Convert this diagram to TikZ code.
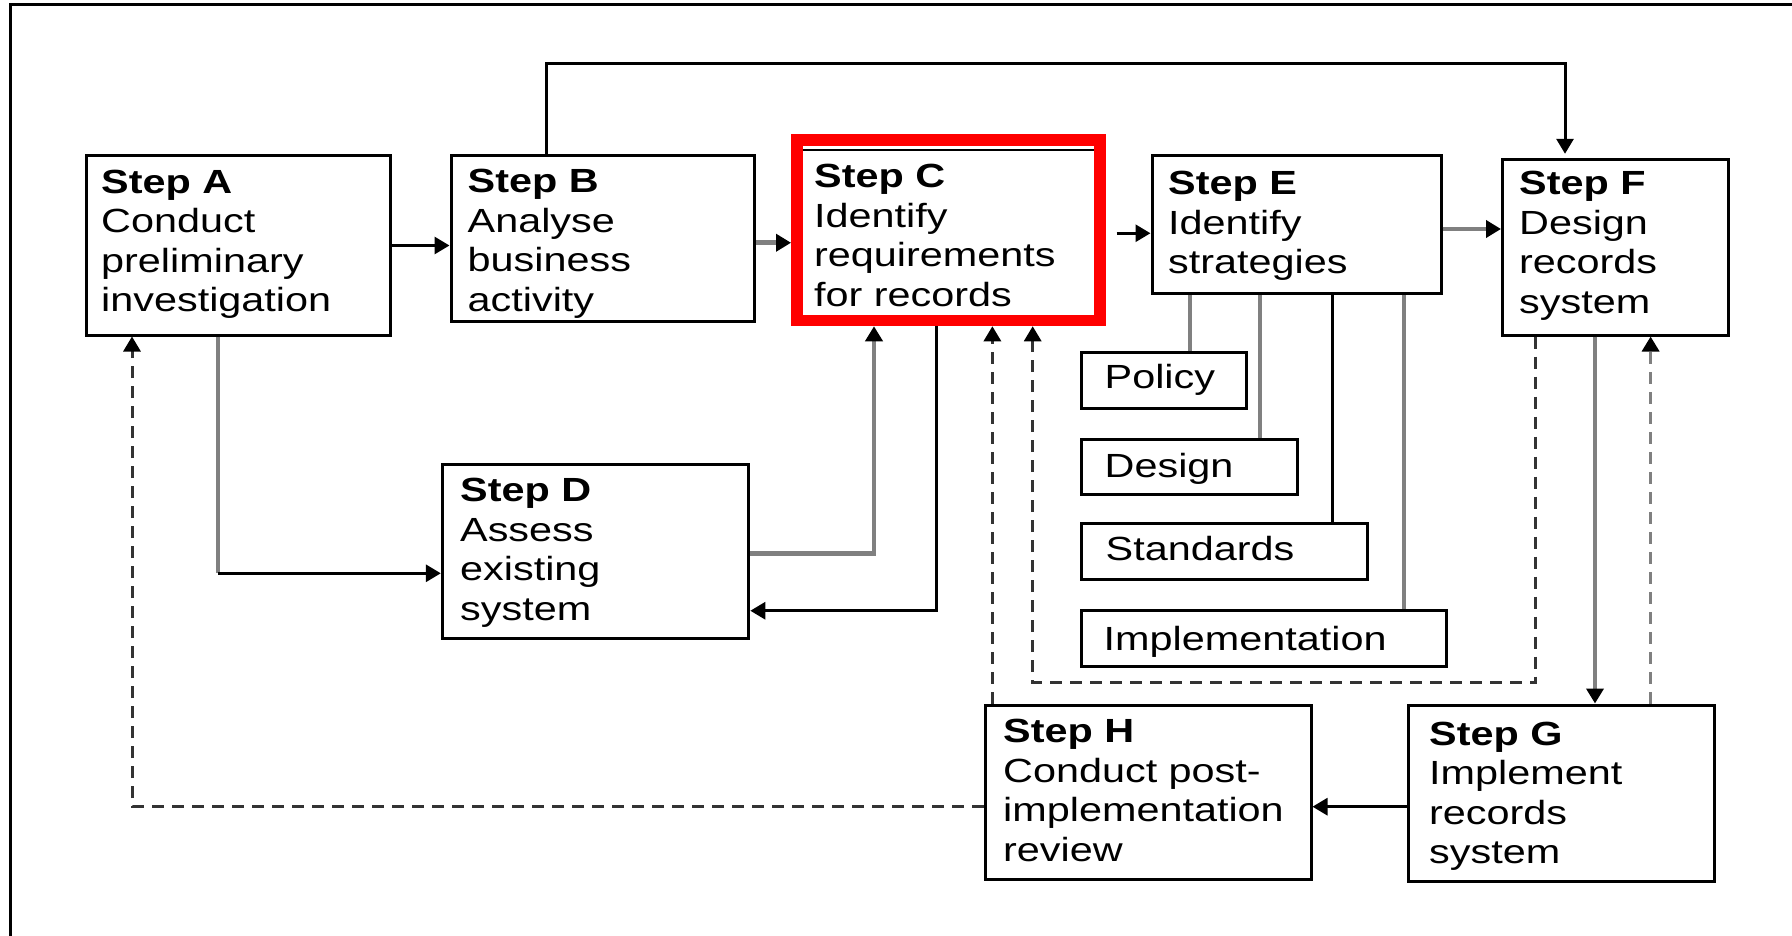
\documentclass[tikz,border=0pt]{standalone}
\usepackage{fontspec}
\setmainfont{Liberation Sans}[FakeStretch=1.235]
\usetikzlibrary{arrows.meta}

\definecolor{linegray}{HTML}{808080}
\definecolor{dashgray}{HTML}{333333}
\definecolor{focusred}{HTML}{FF0000}

\tikzset{
  stepbox/.style={draw=black, line width=3pt, rectangle, inner sep=0pt},
  focusbox/.style={draw=focusred, line width=11.5pt, rectangle, inner sep=0pt},
  lbl/.style={anchor=base west, inner sep=0pt, font=\fontsize{33.5}{39.5}\selectfont},
  tip/.style={-{Triangle[length=15pt,width=17pt,color=black,fill=black]}},
  blk/.style={draw=black, line width=3pt},
  gry/.style={draw=linegray, line width=4.5pt},
  dsh/.style={draw=dashgray, line width=3pt, dash pattern=on 12pt off 8pt},
  dshg/.style={draw=linegray, line width=3.5pt, dash pattern=on 12pt off 8pt},
}

% box from the centre lines of its border: style, name, x1, y1, x2, y2
\newcommand\stepnode[6]{%
  \node[#1, minimum width={(#5-#3)*1pt}, minimum height={(#6-#4)*1pt}]
    (#2) at ({(#3+#5)/2},{(#4+#6)/2}) {};}
% left-aligned lines, first baseline on the anchor
\newcommand\steptext[1]{\begin{tabular}[t]{@{}l@{}}#1\end{tabular}}

\begin{document}
\begin{tikzpicture}[x=1pt, y=-1pt]
\useasboundingbox (0,0) rectangle (1792,936);
\fill[white] (0,0) rectangle (1792,936);

% outer frame (left and top edges)
\draw[line width=3pt] (10,945) -- (10,5) -- (1800,5);

% step boxes
\stepnode{stepbox}{A}{86}{156}{390}{335}
\stepnode{stepbox}{B}{451}{156}{754.5}{321.5}
\stepnode{focusbox}{C}{796.8}{140}{1099.8}{320.5}
\stepnode{stepbox}{D}{442.3}{464.3}{748.8}{638.8}
\stepnode{stepbox}{E}{1152}{156}{1441}{294}
\stepnode{stepbox}{F}{1502.5}{159.3}{1728}{335}
\stepnode{stepbox}{G}{1408.5}{705}{1714.5}{881.7}
\stepnode{stepbox}{H}{985}{705}{1311}{879}

% strategy boxes
\stepnode{stepbox}{pol}{1081.5}{352}{1246}{408}
\stepnode{stepbox}{des}{1081.5}{439.7}{1297}{494.5}
\stepnode{stepbox}{std}{1081.5}{523}{1367}{579.3}
\stepnode{stepbox}{imp}{1081.5}{610.3}{1446.5}{666.7}

% inner rule along the top of the highlighted box
\draw[line width=1.7pt] ([xshift=11.5pt,yshift=-15.8pt]C.north west) -- ([xshift=-11.5pt,yshift=-15.8pt]C.north east);

% texts
\node[lbl] (At) at (101,193.3) {\steptext{\textbf{Step A}\\Conduct\\preliminary\\investigation}};
\node[lbl] (Bt) at (467.5,193) {\steptext{\textbf{Step B}\\Analyse\\business\\activity}};
\node[lbl] (Ct) at (814,188) {\steptext{\textbf{Step C}\\Identify\\requirements\\for records}};
\node[lbl] (Dt) at (460,501.7) {\steptext{\textbf{Step D}\\Assess\\existing\\system}};
\node[lbl] (Et) at (1168,195) {\steptext{\textbf{Step E}\\Identify\\strategies}};
\node[lbl] (Ft) at (1519,195) {\steptext{\textbf{Step F}\\Design\\records\\system}};
\node[lbl] (Gt) at (1429,745) {\steptext{\textbf{Step G}\\Implement\\records\\system}};
\node[lbl] (Ht) at (1003,742.7) {\steptext{\textbf{Step H}\\Conduct post-\\implementation\\review}};
\node[lbl] (polt) at (1104.5,388.3) {Policy};
\node[lbl] (dest) at (1104.5,477) {Design};
\node[lbl] (stdt) at (1105.5,560) {Standards};
\node[lbl] (impt) at (1103.5,650.7) {Implementation};

% main sequence
\draw[blk,tip] (A.east) -- (A.east -| B.west);
\draw[gry,tip] ([yshift=-4pt]B.east) -- ([yshift=-4pt]B.east -| C.west);
\draw[blk,tip] ([xshift=11pt,yshift=-3pt]C.east) -- ([yshift=-3pt]C.east -| E.west);
\draw[gry,tip] ([yshift=-4pt]E.east) -- ([yshift=-4pt]E.east -| F.west);
\draw[blk,tip,shorten >=4pt] ([xshift=-56.25pt]B.north) -- ++(0,-90.5) -| ([xshift=-50.25pt]F.north);

% A to D and D/C exchange
\draw[gry] ([xshift=-20pt]A.south) -- ([xshift=-20pt,yshift=-21.75pt]A.south |- D.west);
\draw[blk,tip] ([xshift=-20pt,yshift=-21.75pt]A.south |- D.west) -- ([yshift=-21.75pt]D.west);
\draw[gry,tip] ([yshift=-1.75pt]D.east) -| ([xshift=-74.3pt]C.south);
\draw[blk,tip] ([xshift=-12.3pt]C.south) |- ([yshift=-59.2pt]D.east);

% strategies hanging from E
\draw[gry] ([xshift=26.25pt]pol.north) -- ([xshift=26.25pt]pol.north |- E.south);
\draw[gry] ([xshift=70.75pt]des.north) -- ([xshift=70.75pt]des.north |- E.south);
\draw[blk] ([xshift=108.25pt]std.north) -- ([xshift=108.25pt]std.north |- E.south);
\draw[gry] ([xshift=139.8pt]imp.north) -- ([xshift=139.8pt]imp.north |- E.south);

% F, G, H
\draw[gry,tip] ([xshift=-20.25pt]F.south) -- ([xshift=-20.25pt]F.south |- G.north);
\draw[dshg,tip] ([xshift=35.35pt]F.south |- G.north) -- ([xshift=35.35pt]F.south);
\draw[blk,tip] ([yshift=-13.35pt]G.west) -- ([yshift=-13.35pt]G.west -| H.east);

% feedback loops
\draw[dsh,tip] ([xshift=-79.65pt]F.south) |- ([xshift=84.4pt,yshift=-14.5pt]C.south |- imp.south) -- ([xshift=84.4pt]C.south);
\draw[dsh,tip] ([xshift=44.1pt]C.south |- H.north) -- ([xshift=44.1pt]C.south);
\draw[dsh,tip] ([yshift=-14.7pt]H.west) -| ([xshift=-106pt]A.south);
\end{tikzpicture}
\end{document}
